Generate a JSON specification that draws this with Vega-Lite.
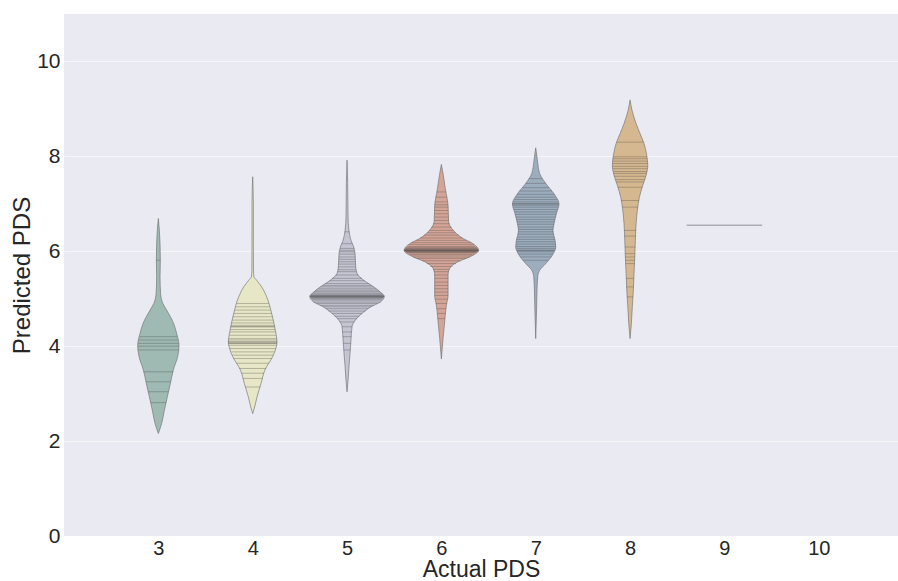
{
  "$schema": "https://vega.github.io/schema/vega-lite/v6.json",
  "width": 834,
  "height": 522,
  "autosize": {"type": "none"},
  "padding": {"left": 64, "top": 14, "right": 0, "bottom": 45},
  "background": "white",
  "config": {
    "view": {"fill": "#EAEAF2", "stroke": null},
    "font": "Liberation Sans",
    "axis": {
      "domain": false,
      "ticks": false,
      "labelFontSize": 21,
      "labelColor": "#262626",
      "titleFontSize": 24,
      "titleFontWeight": "normal",
      "titleColor": "#262626",
      "gridColor": "#FFFFFF",
      "gridWidth": 1,
      "gridOpacity": 0.55
    }
  },
  "datasets": {
    "outline": [
      {"actual": 3, "predicted": 6.69, "lo": 3.0, "hi": 3.0},
      {"actual": 3, "predicted": 6.44, "lo": 2.989, "hi": 3.011},
      {"actual": 3, "predicted": 6.16, "lo": 2.982, "hi": 3.018},
      {"actual": 3, "predicted": 5.81, "lo": 2.979, "hi": 3.021},
      {"actual": 3, "predicted": 5.46, "lo": 2.982, "hi": 3.018},
      {"actual": 3, "predicted": 5.11, "lo": 2.976, "hi": 3.024},
      {"actual": 3, "predicted": 4.9, "lo": 2.952, "hi": 3.048},
      {"actual": 3, "predicted": 4.76, "lo": 2.912, "hi": 3.088},
      {"actual": 3, "predicted": 4.48, "lo": 2.838, "hi": 3.162},
      {"actual": 3, "predicted": 4.27, "lo": 2.806, "hi": 3.194},
      {"actual": 3, "predicted": 4.02, "lo": 2.781, "hi": 3.219},
      {"actual": 3, "predicted": 3.78, "lo": 2.795, "hi": 3.205},
      {"actual": 3, "predicted": 3.5, "lo": 2.841, "hi": 3.159},
      {"actual": 3, "predicted": 3.21, "lo": 2.873, "hi": 3.127},
      {"actual": 3, "predicted": 2.93, "lo": 2.905, "hi": 3.095},
      {"actual": 3, "predicted": 2.65, "lo": 2.936, "hi": 3.064},
      {"actual": 3, "predicted": 2.37, "lo": 2.965, "hi": 3.035},
      {"actual": 3, "predicted": 2.16, "lo": 3.0, "hi": 3.0},

      {"actual": 4, "predicted": 7.57, "lo": 4.0, "hi": 4.0},
      {"actual": 4, "predicted": 7.0, "lo": 3.993, "hi": 4.007},
      {"actual": 4, "predicted": 6.3, "lo": 3.993, "hi": 4.007},
      {"actual": 4, "predicted": 5.6, "lo": 3.992, "hi": 4.008},
      {"actual": 4, "predicted": 5.46, "lo": 3.986, "hi": 4.014},
      {"actual": 4, "predicted": 5.39, "lo": 3.958, "hi": 4.042},
      {"actual": 4, "predicted": 5.25, "lo": 3.905, "hi": 4.095},
      {"actual": 4, "predicted": 5.04, "lo": 3.852, "hi": 4.148},
      {"actual": 4, "predicted": 4.69, "lo": 3.799, "hi": 4.201},
      {"actual": 4, "predicted": 4.41, "lo": 3.767, "hi": 4.233},
      {"actual": 4, "predicted": 4.25, "lo": 3.752, "hi": 4.248},
      {"actual": 4, "predicted": 4.09, "lo": 3.742, "hi": 4.258},
      {"actual": 4, "predicted": 3.95, "lo": 3.755, "hi": 4.245},
      {"actual": 4, "predicted": 3.78, "lo": 3.788, "hi": 4.212},
      {"actual": 4, "predicted": 3.5, "lo": 3.87, "hi": 4.13},
      {"actual": 4, "predicted": 3.21, "lo": 3.912, "hi": 4.088},
      {"actual": 4, "predicted": 2.93, "lo": 3.954, "hi": 4.046},
      {"actual": 4, "predicted": 2.72, "lo": 3.979, "hi": 4.021},
      {"actual": 4, "predicted": 2.58, "lo": 4.0, "hi": 4.0},

      {"actual": 5, "predicted": 7.92, "lo": 5.0, "hi": 5.0},
      {"actual": 5, "predicted": 7.43, "lo": 4.993, "hi": 5.007},
      {"actual": 5, "predicted": 6.72, "lo": 4.989, "hi": 5.011},
      {"actual": 5, "predicted": 6.44, "lo": 4.979, "hi": 5.021},
      {"actual": 5, "predicted": 6.23, "lo": 4.958, "hi": 5.042},
      {"actual": 5, "predicted": 6.09, "lo": 4.929, "hi": 5.071},
      {"actual": 5, "predicted": 5.95, "lo": 4.915, "hi": 5.085},
      {"actual": 5, "predicted": 5.67, "lo": 4.908, "hi": 5.092},
      {"actual": 5, "predicted": 5.53, "lo": 4.894, "hi": 5.106},
      {"actual": 5, "predicted": 5.39, "lo": 4.823, "hi": 5.177},
      {"actual": 5, "predicted": 5.25, "lo": 4.717, "hi": 5.283},
      {"actual": 5, "predicted": 5.14, "lo": 4.647, "hi": 5.353},
      {"actual": 5, "predicted": 5.05, "lo": 4.605, "hi": 5.395},
      {"actual": 5, "predicted": 4.93, "lo": 4.647, "hi": 5.353},
      {"actual": 5, "predicted": 4.83, "lo": 4.746, "hi": 5.254},
      {"actual": 5, "predicted": 4.69, "lo": 4.841, "hi": 5.159},
      {"actual": 5, "predicted": 4.55, "lo": 4.912, "hi": 5.088},
      {"actual": 5, "predicted": 4.41, "lo": 4.947, "hi": 5.053},
      {"actual": 5, "predicted": 4.13, "lo": 4.958, "hi": 5.042},
      {"actual": 5, "predicted": 3.85, "lo": 4.968, "hi": 5.032},
      {"actual": 5, "predicted": 3.57, "lo": 4.979, "hi": 5.021},
      {"actual": 5, "predicted": 3.28, "lo": 4.989, "hi": 5.011},
      {"actual": 5, "predicted": 3.04, "lo": 5.0, "hi": 5.0},

      {"actual": 6, "predicted": 7.83, "lo": 6.0, "hi": 6.0},
      {"actual": 6, "predicted": 7.6, "lo": 5.979, "hi": 6.021},
      {"actual": 6, "predicted": 7.32, "lo": 5.958, "hi": 6.042},
      {"actual": 6, "predicted": 6.97, "lo": 5.929, "hi": 6.071},
      {"actual": 6, "predicted": 6.62, "lo": 5.923, "hi": 6.077},
      {"actual": 6, "predicted": 6.41, "lo": 5.859, "hi": 6.141},
      {"actual": 6, "predicted": 6.27, "lo": 5.77, "hi": 6.23},
      {"actual": 6, "predicted": 6.16, "lo": 5.664, "hi": 6.336},
      {"actual": 6, "predicted": 6.02, "lo": 5.605, "hi": 6.395},
      {"actual": 6, "predicted": 5.88, "lo": 5.7, "hi": 6.3},
      {"actual": 6, "predicted": 5.78, "lo": 5.823, "hi": 6.177},
      {"actual": 6, "predicted": 5.64, "lo": 5.912, "hi": 6.088},
      {"actual": 6, "predicted": 5.5, "lo": 5.929, "hi": 6.071},
      {"actual": 6, "predicted": 5.07, "lo": 5.929, "hi": 6.071},
      {"actual": 6, "predicted": 4.86, "lo": 5.947, "hi": 6.053},
      {"actual": 6, "predicted": 4.51, "lo": 5.965, "hi": 6.035},
      {"actual": 6, "predicted": 4.16, "lo": 5.982, "hi": 6.018},
      {"actual": 6, "predicted": 3.73, "lo": 6.0, "hi": 6.0},

      {"actual": 7, "predicted": 8.18, "lo": 7.0, "hi": 7.0},
      {"actual": 7, "predicted": 7.92, "lo": 6.982, "hi": 7.018},
      {"actual": 7, "predicted": 7.64, "lo": 6.958, "hi": 7.042},
      {"actual": 7, "predicted": 7.43, "lo": 6.894, "hi": 7.106},
      {"actual": 7, "predicted": 7.21, "lo": 6.806, "hi": 7.194},
      {"actual": 7, "predicted": 7.0, "lo": 6.753, "hi": 7.247},
      {"actual": 7, "predicted": 6.79, "lo": 6.781, "hi": 7.219},
      {"actual": 7, "predicted": 6.58, "lo": 6.806, "hi": 7.194},
      {"actual": 7, "predicted": 6.44, "lo": 6.817, "hi": 7.183},
      {"actual": 7, "predicted": 6.23, "lo": 6.795, "hi": 7.205},
      {"actual": 7, "predicted": 6.09, "lo": 6.788, "hi": 7.212},
      {"actual": 7, "predicted": 5.92, "lo": 6.823, "hi": 7.177},
      {"actual": 7, "predicted": 5.74, "lo": 6.894, "hi": 7.106},
      {"actual": 7, "predicted": 5.6, "lo": 6.958, "hi": 7.042},
      {"actual": 7, "predicted": 5.46, "lo": 6.979, "hi": 7.021},
      {"actual": 7, "predicted": 5.18, "lo": 6.986, "hi": 7.014},
      {"actual": 7, "predicted": 4.69, "lo": 6.992, "hi": 7.008},
      {"actual": 7, "predicted": 4.16, "lo": 7.0, "hi": 7.0},

      {"actual": 8, "predicted": 9.19, "lo": 8.0, "hi": 8.0},
      {"actual": 8, "predicted": 8.97, "lo": 7.979, "hi": 8.021},
      {"actual": 8, "predicted": 8.69, "lo": 7.936, "hi": 8.064},
      {"actual": 8, "predicted": 8.48, "lo": 7.894, "hi": 8.106},
      {"actual": 8, "predicted": 8.27, "lo": 7.852, "hi": 8.148},
      {"actual": 8, "predicted": 8.02, "lo": 7.823, "hi": 8.177},
      {"actual": 8, "predicted": 7.81, "lo": 7.812, "hi": 8.188},
      {"actual": 8, "predicted": 7.6, "lo": 7.83, "hi": 8.17},
      {"actual": 8, "predicted": 7.39, "lo": 7.865, "hi": 8.135},
      {"actual": 8, "predicted": 7.14, "lo": 7.901, "hi": 8.099},
      {"actual": 8, "predicted": 6.86, "lo": 7.923, "hi": 8.077},
      {"actual": 8, "predicted": 6.58, "lo": 7.936, "hi": 8.064},
      {"actual": 8, "predicted": 6.23, "lo": 7.944, "hi": 8.056},
      {"actual": 8, "predicted": 5.88, "lo": 7.95, "hi": 8.05},
      {"actual": 8, "predicted": 5.53, "lo": 7.958, "hi": 8.042},
      {"actual": 8, "predicted": 5.18, "lo": 7.965, "hi": 8.035},
      {"actual": 8, "predicted": 4.83, "lo": 7.976, "hi": 8.024},
      {"actual": 8, "predicted": 4.48, "lo": 7.986, "hi": 8.014},
      {"actual": 8, "predicted": 4.16, "lo": 8.0, "hi": 8.0}
    ],
    "sticks": [
      {"actual": 3, "predicted": 5.81, "lo": 2.979, "hi": 3.021},
      {"actual": 3, "predicted": 4.2, "lo": 2.801, "hi": 3.199},
      {"actual": 3, "predicted": 4.13, "lo": 2.793, "hi": 3.207},
      {"actual": 3, "predicted": 4.06, "lo": 2.785, "hi": 3.215},
      {"actual": 3, "predicted": 4.0, "lo": 2.781, "hi": 3.219},
      {"actual": 3, "predicted": 3.92, "lo": 2.786, "hi": 3.214},
      {"actual": 3, "predicted": 3.46, "lo": 2.845, "hi": 3.155},
      {"actual": 3, "predicted": 3.25, "lo": 2.869, "hi": 3.131},
      {"actual": 3, "predicted": 3.04, "lo": 2.893, "hi": 3.107},
      {"actual": 3, "predicted": 2.81, "lo": 2.918, "hi": 3.082},

      {"actual": 4, "predicted": 4.9, "lo": 3.83, "hi": 4.17},
      {"actual": 4, "predicted": 4.83, "lo": 3.82, "hi": 4.18},
      {"actual": 4, "predicted": 4.76, "lo": 3.809, "hi": 4.191},
      {"actual": 4, "predicted": 4.69, "lo": 3.799, "hi": 4.201},
      {"actual": 4, "predicted": 4.62, "lo": 3.791, "hi": 4.209},
      {"actual": 4, "predicted": 4.55, "lo": 3.783, "hi": 4.217},
      {"actual": 4, "predicted": 4.49, "lo": 3.776, "hi": 4.224},
      {"actual": 4, "predicted": 4.44, "lo": 3.771, "hi": 4.229},
      {"actual": 4, "predicted": 4.41, "lo": 3.767, "hi": 4.233},
      {"actual": 4, "predicted": 4.41, "lo": 3.767, "hi": 4.233},
      {"actual": 4, "predicted": 4.35, "lo": 3.763, "hi": 4.237},
      {"actual": 4, "predicted": 4.3, "lo": 3.759, "hi": 4.241},
      {"actual": 4, "predicted": 4.23, "lo": 3.753, "hi": 4.247},
      {"actual": 4, "predicted": 4.16, "lo": 3.748, "hi": 4.252},
      {"actual": 4, "predicted": 4.13, "lo": 3.745, "hi": 4.255},
      {"actual": 4, "predicted": 4.09, "lo": 3.742, "hi": 4.258},
      {"actual": 4, "predicted": 4.09, "lo": 3.742, "hi": 4.258},
      {"actual": 4, "predicted": 4.06, "lo": 3.745, "hi": 4.255},
      {"actual": 4, "predicted": 4.06, "lo": 3.745, "hi": 4.255},
      {"actual": 4, "predicted": 4.02, "lo": 3.748, "hi": 4.252},
      {"actual": 4, "predicted": 3.95, "lo": 3.757, "hi": 4.243},
      {"actual": 4, "predicted": 3.88, "lo": 3.773, "hi": 4.227},
      {"actual": 4, "predicted": 3.81, "lo": 3.783, "hi": 4.217},
      {"actual": 4, "predicted": 3.74, "lo": 3.799, "hi": 4.201},
      {"actual": 4, "predicted": 3.64, "lo": 3.829, "hi": 4.171},
      {"actual": 4, "predicted": 3.53, "lo": 3.859, "hi": 4.141},
      {"actual": 4, "predicted": 3.43, "lo": 3.88, "hi": 4.12},
      {"actual": 4, "predicted": 3.32, "lo": 3.896, "hi": 4.104},
      {"actual": 4, "predicted": 3.14, "lo": 3.923, "hi": 4.077},

      {"actual": 5, "predicted": 6.41, "lo": 4.975, "hi": 5.025},
      {"actual": 5, "predicted": 6.16, "lo": 4.943, "hi": 5.057},
      {"actual": 5, "predicted": 6.06, "lo": 4.926, "hi": 5.074},
      {"actual": 5, "predicted": 6.02, "lo": 4.922, "hi": 5.078},
      {"actual": 5, "predicted": 5.99, "lo": 4.919, "hi": 5.081},
      {"actual": 5, "predicted": 5.94, "lo": 4.915, "hi": 5.085},
      {"actual": 5, "predicted": 5.88, "lo": 4.913, "hi": 5.087},
      {"actual": 5, "predicted": 5.83, "lo": 4.912, "hi": 5.088},
      {"actual": 5, "predicted": 5.78, "lo": 4.911, "hi": 5.089},
      {"actual": 5, "predicted": 5.73, "lo": 4.909, "hi": 5.091},
      {"actual": 5, "predicted": 5.67, "lo": 4.908, "hi": 5.092},
      {"actual": 5, "predicted": 5.61, "lo": 4.903, "hi": 5.097},
      {"actual": 5, "predicted": 5.57, "lo": 4.898, "hi": 5.102},
      {"actual": 5, "predicted": 5.5, "lo": 4.876, "hi": 5.124},
      {"actual": 5, "predicted": 5.43, "lo": 4.841, "hi": 5.159},
      {"actual": 5, "predicted": 5.38, "lo": 4.812, "hi": 5.188},
      {"actual": 5, "predicted": 5.32, "lo": 4.77, "hi": 5.23},
      {"actual": 5, "predicted": 5.28, "lo": 4.744, "hi": 5.256},
      {"actual": 5, "predicted": 5.25, "lo": 4.717, "hi": 5.283},
      {"actual": 5, "predicted": 5.21, "lo": 4.694, "hi": 5.306},
      {"actual": 5, "predicted": 5.18, "lo": 4.67, "hi": 5.33},
      {"actual": 5, "predicted": 5.15, "lo": 4.651, "hi": 5.349},
      {"actual": 5, "predicted": 5.12, "lo": 4.638, "hi": 5.362},
      {"actual": 5, "predicted": 5.1, "lo": 4.624, "hi": 5.376},
      {"actual": 5, "predicted": 5.08, "lo": 4.618, "hi": 5.382},
      {"actual": 5, "predicted": 5.07, "lo": 4.614, "hi": 5.386},
      {"actual": 5, "predicted": 5.06, "lo": 4.61, "hi": 5.39},
      {"actual": 5, "predicted": 5.05, "lo": 4.605, "hi": 5.395},
      {"actual": 5, "predicted": 5.05, "lo": 4.605, "hi": 5.395},
      {"actual": 5, "predicted": 5.04, "lo": 4.608, "hi": 5.392},
      {"actual": 5, "predicted": 5.03, "lo": 4.612, "hi": 5.388},
      {"actual": 5, "predicted": 5.02, "lo": 4.616, "hi": 5.384},
      {"actual": 5, "predicted": 5.01, "lo": 4.62, "hi": 5.38},
      {"actual": 5, "predicted": 4.99, "lo": 4.627, "hi": 5.373},
      {"actual": 5, "predicted": 4.97, "lo": 4.634, "hi": 5.366},
      {"actual": 5, "predicted": 4.93, "lo": 4.647, "hi": 5.353},
      {"actual": 5, "predicted": 4.9, "lo": 4.68, "hi": 5.32},
      {"actual": 5, "predicted": 4.86, "lo": 4.713, "hi": 5.287},
      {"actual": 5, "predicted": 4.83, "lo": 4.746, "hi": 5.254},
      {"actual": 5, "predicted": 4.79, "lo": 4.774, "hi": 5.226},
      {"actual": 5, "predicted": 4.74, "lo": 4.803, "hi": 5.197},
      {"actual": 5, "predicted": 4.69, "lo": 4.841, "hi": 5.159},
      {"actual": 5, "predicted": 4.63, "lo": 4.87, "hi": 5.13},
      {"actual": 5, "predicted": 4.58, "lo": 4.894, "hi": 5.106},
      {"actual": 5, "predicted": 4.51, "lo": 4.921, "hi": 5.079},
      {"actual": 5, "predicted": 4.41, "lo": 4.947, "hi": 5.053},
      {"actual": 5, "predicted": 4.3, "lo": 4.951, "hi": 5.049},
      {"actual": 5, "predicted": 4.2, "lo": 4.955, "hi": 5.045},
      {"actual": 5, "predicted": 4.06, "lo": 4.96, "hi": 5.04},
      {"actual": 5, "predicted": 3.92, "lo": 4.966, "hi": 5.034},

      {"actual": 6, "predicted": 7.25, "lo": 5.952, "hi": 6.048},
      {"actual": 6, "predicted": 7.14, "lo": 5.943, "hi": 6.057},
      {"actual": 6, "predicted": 7.04, "lo": 5.934, "hi": 6.066},
      {"actual": 6, "predicted": 6.98, "lo": 5.93, "hi": 6.07},
      {"actual": 6, "predicted": 6.93, "lo": 5.928, "hi": 6.072},
      {"actual": 6, "predicted": 6.86, "lo": 5.927, "hi": 6.073},
      {"actual": 6, "predicted": 6.79, "lo": 5.926, "hi": 6.074},
      {"actual": 6, "predicted": 6.72, "lo": 5.925, "hi": 6.075},
      {"actual": 6, "predicted": 6.65, "lo": 5.924, "hi": 6.076},
      {"actual": 6, "predicted": 6.58, "lo": 5.912, "hi": 6.088},
      {"actual": 6, "predicted": 6.51, "lo": 5.891, "hi": 6.109},
      {"actual": 6, "predicted": 6.44, "lo": 5.87, "hi": 6.13},
      {"actual": 6, "predicted": 6.39, "lo": 5.851, "hi": 6.149},
      {"actual": 6, "predicted": 6.34, "lo": 5.815, "hi": 6.185},
      {"actual": 6, "predicted": 6.28, "lo": 5.779, "hi": 6.221},
      {"actual": 6, "predicted": 6.23, "lo": 5.735, "hi": 6.265},
      {"actual": 6, "predicted": 6.18, "lo": 5.685, "hi": 6.315},
      {"actual": 6, "predicted": 6.14, "lo": 5.656, "hi": 6.344},
      {"actual": 6, "predicted": 6.1, "lo": 5.641, "hi": 6.359},
      {"actual": 6, "predicted": 6.08, "lo": 5.628, "hi": 6.372},
      {"actual": 6, "predicted": 6.06, "lo": 5.62, "hi": 6.38},
      {"actual": 6, "predicted": 6.05, "lo": 5.616, "hi": 6.384},
      {"actual": 6, "predicted": 6.04, "lo": 5.611, "hi": 6.389},
      {"actual": 6, "predicted": 6.03, "lo": 5.608, "hi": 6.392},
      {"actual": 6, "predicted": 6.02, "lo": 5.606, "hi": 6.394},
      {"actual": 6, "predicted": 6.02, "lo": 5.606, "hi": 6.394},
      {"actual": 6, "predicted": 6.01, "lo": 5.609, "hi": 6.391},
      {"actual": 6, "predicted": 6.01, "lo": 5.609, "hi": 6.391},
      {"actual": 6, "predicted": 6.0, "lo": 5.616, "hi": 6.384},
      {"actual": 6, "predicted": 5.99, "lo": 5.624, "hi": 6.376},
      {"actual": 6, "predicted": 5.98, "lo": 5.631, "hi": 6.369},
      {"actual": 6, "predicted": 5.97, "lo": 5.638, "hi": 6.362},
      {"actual": 6, "predicted": 5.94, "lo": 5.657, "hi": 6.343},
      {"actual": 6, "predicted": 5.92, "lo": 5.676, "hi": 6.324},
      {"actual": 6, "predicted": 5.88, "lo": 5.7, "hi": 6.3},
      {"actual": 6, "predicted": 5.85, "lo": 5.741, "hi": 6.259},
      {"actual": 6, "predicted": 5.8, "lo": 5.799, "hi": 6.201},
      {"actual": 6, "predicted": 5.74, "lo": 5.845, "hi": 6.155},
      {"actual": 6, "predicted": 5.68, "lo": 5.881, "hi": 6.119},
      {"actual": 6, "predicted": 5.62, "lo": 5.914, "hi": 6.086},
      {"actual": 6, "predicted": 5.57, "lo": 5.921, "hi": 6.079},
      {"actual": 6, "predicted": 5.5, "lo": 5.929, "hi": 6.071},
      {"actual": 6, "predicted": 5.43, "lo": 5.929, "hi": 6.071},
      {"actual": 6, "predicted": 5.35, "lo": 5.929, "hi": 6.071},
      {"actual": 6, "predicted": 5.28, "lo": 5.929, "hi": 6.071},
      {"actual": 6, "predicted": 5.21, "lo": 5.929, "hi": 6.071},
      {"actual": 6, "predicted": 5.14, "lo": 5.929, "hi": 6.071},
      {"actual": 6, "predicted": 5.07, "lo": 5.929, "hi": 6.071},
      {"actual": 6, "predicted": 4.99, "lo": 5.936, "hi": 6.064},
      {"actual": 6, "predicted": 4.9, "lo": 5.944, "hi": 6.056},
      {"actual": 6, "predicted": 4.79, "lo": 5.951, "hi": 6.049},
      {"actual": 6, "predicted": 4.69, "lo": 5.956, "hi": 6.044},
      {"actual": 6, "predicted": 4.58, "lo": 5.962, "hi": 6.038},

      {"actual": 7, "predicted": 7.53, "lo": 6.926, "hi": 7.074},
      {"actual": 7, "predicted": 7.43, "lo": 6.894, "hi": 7.106},
      {"actual": 7, "predicted": 7.34, "lo": 6.859, "hi": 7.141},
      {"actual": 7, "predicted": 7.27, "lo": 6.829, "hi": 7.171},
      {"actual": 7, "predicted": 7.2, "lo": 6.803, "hi": 7.197},
      {"actual": 7, "predicted": 7.14, "lo": 6.788, "hi": 7.212},
      {"actual": 7, "predicted": 7.09, "lo": 6.774, "hi": 7.226},
      {"actual": 7, "predicted": 7.04, "lo": 6.762, "hi": 7.238},
      {"actual": 7, "predicted": 7.0, "lo": 6.753, "hi": 7.247},
      {"actual": 7, "predicted": 7.0, "lo": 6.753, "hi": 7.247},
      {"actual": 7, "predicted": 6.97, "lo": 6.757, "hi": 7.243},
      {"actual": 7, "predicted": 6.93, "lo": 6.763, "hi": 7.237},
      {"actual": 7, "predicted": 6.88, "lo": 6.77, "hi": 7.23},
      {"actual": 7, "predicted": 6.83, "lo": 6.776, "hi": 7.224},
      {"actual": 7, "predicted": 6.78, "lo": 6.783, "hi": 7.217},
      {"actual": 7, "predicted": 6.72, "lo": 6.789, "hi": 7.211},
      {"actual": 7, "predicted": 6.67, "lo": 6.795, "hi": 7.205},
      {"actual": 7, "predicted": 6.62, "lo": 6.802, "hi": 7.198},
      {"actual": 7, "predicted": 6.57, "lo": 6.807, "hi": 7.193},
      {"actual": 7, "predicted": 6.51, "lo": 6.811, "hi": 7.189},
      {"actual": 7, "predicted": 6.46, "lo": 6.816, "hi": 7.184},
      {"actual": 7, "predicted": 6.41, "lo": 6.813, "hi": 7.187},
      {"actual": 7, "predicted": 6.36, "lo": 6.808, "hi": 7.192},
      {"actual": 7, "predicted": 6.3, "lo": 6.803, "hi": 7.197},
      {"actual": 7, "predicted": 6.25, "lo": 6.797, "hi": 7.203},
      {"actual": 7, "predicted": 6.2, "lo": 6.793, "hi": 7.207},
      {"actual": 7, "predicted": 6.15, "lo": 6.791, "hi": 7.209},
      {"actual": 7, "predicted": 6.1, "lo": 6.789, "hi": 7.211},
      {"actual": 7, "predicted": 6.06, "lo": 6.795, "hi": 7.205},
      {"actual": 7, "predicted": 6.02, "lo": 6.802, "hi": 7.198},
      {"actual": 7, "predicted": 6.02, "lo": 6.802, "hi": 7.198},
      {"actual": 7, "predicted": 5.99, "lo": 6.809, "hi": 7.191},
      {"actual": 7, "predicted": 5.94, "lo": 6.819, "hi": 7.181},
      {"actual": 7, "predicted": 5.88, "lo": 6.837, "hi": 7.163},
      {"actual": 7, "predicted": 5.81, "lo": 6.865, "hi": 7.135},

      {"actual": 8, "predicted": 8.3, "lo": 7.859, "hi": 8.141},
      {"actual": 8, "predicted": 7.99, "lo": 7.821, "hi": 8.179},
      {"actual": 8, "predicted": 7.95, "lo": 7.82, "hi": 8.18},
      {"actual": 8, "predicted": 7.9, "lo": 7.817, "hi": 8.183},
      {"actual": 8, "predicted": 7.85, "lo": 7.815, "hi": 8.185},
      {"actual": 8, "predicted": 7.79, "lo": 7.815, "hi": 8.185},
      {"actual": 8, "predicted": 7.74, "lo": 7.819, "hi": 8.181},
      {"actual": 8, "predicted": 7.68, "lo": 7.823, "hi": 8.177},
      {"actual": 8, "predicted": 7.64, "lo": 7.827, "hi": 8.173},
      {"actual": 8, "predicted": 7.58, "lo": 7.834, "hi": 8.166},
      {"actual": 8, "predicted": 7.51, "lo": 7.845, "hi": 8.155},
      {"actual": 8, "predicted": 7.46, "lo": 7.854, "hi": 8.146},
      {"actual": 8, "predicted": 7.35, "lo": 7.871, "hi": 8.129},
      {"actual": 8, "predicted": 7.07, "lo": 7.907, "hi": 8.093},
      {"actual": 8, "predicted": 6.93, "lo": 7.917, "hi": 8.083},
      {"actual": 8, "predicted": 6.44, "lo": 7.94, "hi": 8.06},
      {"actual": 8, "predicted": 6.32, "lo": 7.942, "hi": 8.058},
      {"actual": 8, "predicted": 6.09, "lo": 7.946, "hi": 8.054},
      {"actual": 8, "predicted": 5.95, "lo": 7.949, "hi": 8.051},
      {"actual": 8, "predicted": 5.88, "lo": 7.95, "hi": 8.05},
      {"actual": 8, "predicted": 5.81, "lo": 7.951, "hi": 8.049},
      {"actual": 8, "predicted": 5.74, "lo": 7.953, "hi": 8.047},
      {"actual": 8, "predicted": 5.43, "lo": 7.96, "hi": 8.04},
      {"actual": 8, "predicted": 5.25, "lo": 7.964, "hi": 8.036},
      {"actual": 8, "predicted": 5.04, "lo": 7.969, "hi": 8.031}
    ],
    "single": [
      {"actual": 9, "predicted": 6.55, "lo": 8.6, "hi": 9.4}
    ]
  },
  "layer": [
    {
      "data": {"name": "outline"},
      "mark": {"type": "area", "orient": "horizontal", "interpolate": "monotone", "stroke": "#707070", "strokeWidth": 0.8, "strokeOpacity": 0.8, "fillOpacity": 1},
      "encoding": {
        "y": {
          "field": "predicted", "type": "quantitative",
          "scale": {"domain": [0, 11], "nice": false, "zero": false},
          "axis": {"values": [0, 2, 4, 6, 8, 10], "grid": true, "labelPadding": 4, "title": "Predicted PDS", "titleX": -35, "titleBaseline": "alphabetic"}
        },
        "x": {
          "field": "lo", "type": "quantitative", "stack": null,
          "scale": {"domain": [2, 10.84], "nice": false, "zero": false},
          "axis": {"values": [3, 4, 5, 6, 7, 8, 9, 10], "format": "d", "grid": false, "labelPadding": 2, "labelFontSize": 20, "title": "Actual PDS", "titleFontSize": 23, "titleY": 40, "titleBaseline": "alphabetic"}
        },
        "x2": {"field": "hi"},
        "color": {
          "field": "actual", "type": "nominal",
          "scale": {"domain": [3, 4, 5, 6, 7, 8], "range": ["#9EBAB2", "#E7E6C6", "#C4C4D2", "#D4A597", "#9CADBE", "#D6B890"]},
          "legend": null
        },
        "detail": {"field": "actual", "type": "nominal"}
      }
    },
    {
      "data": {"name": "sticks"},
      "mark": {"type": "rule", "stroke": "#444444", "strokeWidth": 1, "opacity": 0.32},
      "encoding": {
        "y": {"field": "predicted", "type": "quantitative"},
        "x": {"field": "lo", "type": "quantitative"},
        "x2": {"field": "hi"}
      }
    },
    {
      "data": {"name": "single"},
      "mark": {"type": "rule", "stroke": "#777780", "strokeWidth": 1, "opacity": 0.8},
      "encoding": {
        "y": {"field": "predicted", "type": "quantitative"},
        "x": {"field": "lo", "type": "quantitative"},
        "x2": {"field": "hi"}
      }
    }
  ]
}
